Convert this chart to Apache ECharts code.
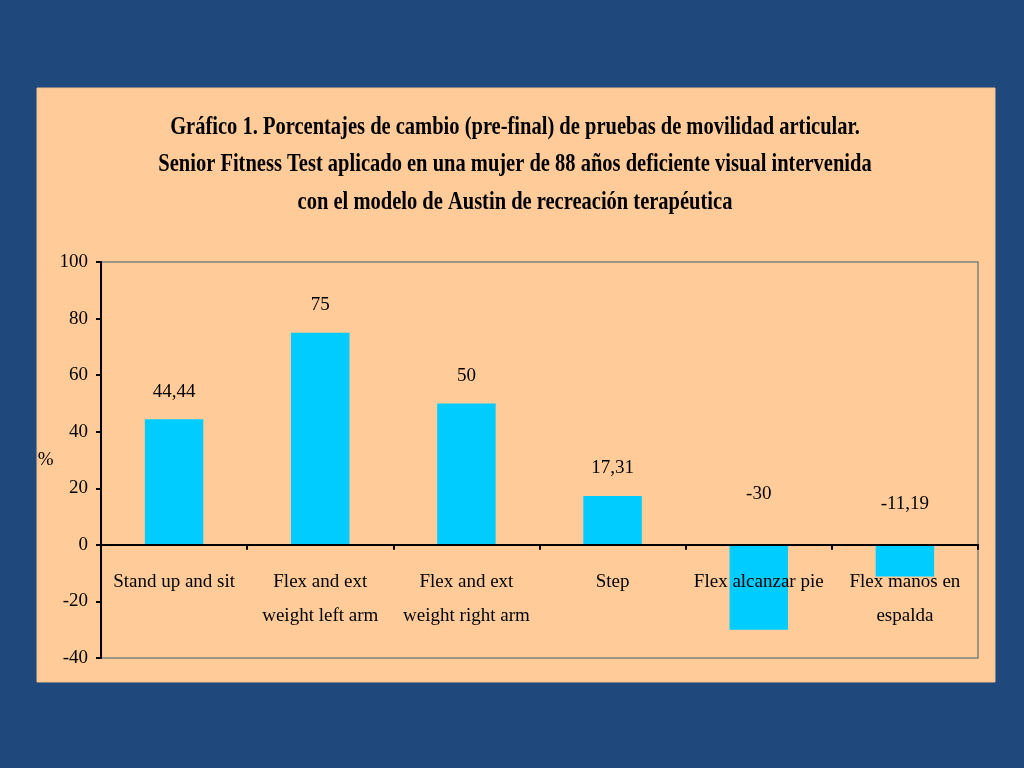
<!DOCTYPE html>
<html>
<head>
<meta charset="utf-8">
<script src="https://cdn.jsdelivr.net/npm/echarts@6/dist/echarts.min.js"></script>
<style>
  html, body { margin: 0; padding: 0; background: #1F497D; }
  #chart { width: 1024px; height: 768px; }
</style>
</head>
<body>
<div id="chart"></div>
<script>
var categories = ['Stand up and sit', 'Flex and ext\nweight left arm', 'Flex and ext\nweight right arm', 'Step', 'Flex alcanzar pie', 'Flex manos en\nespalda'];
var values = [44.44, 75, 50, 17.31, -30, -11.19];
var labelGaps = [18, 18, 18, 18, 41, 31];
var titleLines = [
    'Gráfico 1. Porcentajes de cambio (pre-final) de pruebas de movilidad articular.',
    'Senior Fitness Test aplicado en una mujer de 88 años deficiente visual intervenida',
    'con el modelo de Austin de recreación terapéutica'
];
var titleY = [128, 165, 203];

var font = '"Liberation Serif", "Times New Roman", serif';

var chart = echarts.init(document.getElementById('chart'));

var graphics = [{
    type: 'rect',
    shape: { x: 37, y: 88, width: 958, height: 594 },
    style: { fill: '#FFCC99', stroke: '#F0C090', lineWidth: 1 },
    z: -10
}];
titleLines.forEach(function (t, i) {
    graphics.push({
        type: 'text',
        x: 515,
        y: titleY[i],
        scaleX: 0.82,
        style: {
            text: t,
            font: 'bold 25px ' + font,
            fill: '#000',
            textAlign: 'center',
            textVerticalAlign: 'middle'
        }
    });
});

chart.setOption({
    backgroundColor: '#1F497D',
    animation: false,
    graphic: graphics,
    grid: {
        left: 101, right: 46, top: 262, bottom: 110,
        show: true,
        borderColor: '#808080',
        borderWidth: 1.5,
        backgroundColor: 'transparent'
    },
    xAxis: {
        type: 'category',
        data: categories,
        z: 5,
        axisLine: { onZero: true, lineStyle: { color: '#000', width: 2 } },
        axisTick: { show: true, length: 5, inside: false, lineStyle: { color: '#000', width: 2 } },
        axisLabel: {
            interval: 0,
            margin: -93,
            color: '#000',
            fontFamily: font,
            fontSize: 19,
            lineHeight: 34,
            verticalAlign: 'top'
        }
    },
    yAxis: {
        type: 'value',
        min: -40, max: 100, interval: 20,
        name: '%',
        nameLocation: 'middle',
        nameRotate: 0,
        nameGap: 47,
        nameTextStyle: { color: '#000', fontFamily: font, fontSize: 19 },
        splitLine: { show: false },
        axisLine: { show: true, lineStyle: { color: '#000', width: 2 } },
        axisTick: { show: true, length: 5, lineStyle: { color: '#000', width: 2 } },
        axisLabel: { color: '#000', fontFamily: font, fontSize: 19, margin: 13 }
    },
    series: [{
        type: 'bar',
        barWidth: '40%',
        itemStyle: { color: '#00CCFF' },
        data: values.map(function (v, i) {
            return {
                value: v,
                label: { distance: labelGaps[i] }
            };
        }),
        label: {
            show: true,
            position: 'top',
            color: '#000',
            fontFamily: font,
            fontSize: 19,
            formatter: function (p) { return String(p.value).replace('.', ','); }
        }
    }]
});
</script>
</body>
</html>
